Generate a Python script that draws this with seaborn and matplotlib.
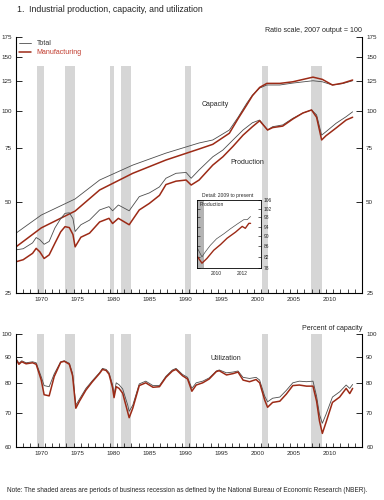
import numpy as np
import pandas as pd
import seaborn as sns
import matplotlib.pyplot as plt

# values (index, 2007 output = 100)
cap_years = [1967.0, 1970.5, 1975.2, 1978.6, 1983.2, 1987.8, 1992.4, 1994.3, 1996.6, 1997.8,
             1999.0, 1999.8, 2000.8, 2001.8, 2003.6, 2005.4, 2008.2, 2009.5, 2010.9, 2012.3, 2013.7]
cap_total = [39.4, 45.2, 51.1, 59.0, 66.1, 72.4, 78.2, 80.0, 86.3, 95.0,
             105.7, 112.5, 118.7, 121.5, 121.5, 123.3, 125.5, 124.5, 121.5, 122.8, 125.5]
cap_mfg = [35.5, 41.0, 46.6, 54.7, 62.1, 68.7, 74.7, 77.4, 84.2, 94.0,
           104.3, 112.0, 119.3, 123.0, 123.0, 124.5, 129.0, 126.8, 121.5, 123.2, 126.2]

prod_years = [1967.0, 1968.0, 1969.3, 1969.8, 1970.3, 1970.9, 1971.6, 1972.4, 1973.2, 1973.8,
              1974.4, 1974.9, 1975.2, 1976.0, 1977.2, 1978.6, 1979.9, 1980.4, 1981.2, 1982.7,
              1984.1, 1985.5, 1986.9, 1987.8, 1989.2, 1990.6, 1991.3, 1992.4, 1994.3, 1995.7,
              1997.1, 1998.5, 1999.8, 2000.8, 2001.9, 2002.6, 2004.0, 2005.4, 2006.8, 2008.0,
              2008.7, 2009.4, 2010.0, 2011.4, 2012.8, 2013.7]
prod_total = [34.7, 35.0, 36.6, 38.1, 37.5, 36.2, 37.0, 41.0, 44.0, 45.8,
              46.0, 44.0, 39.9, 42.0, 43.5, 47.0, 48.2, 46.7, 48.8, 46.7,
              52.0, 53.5, 56.0, 59.8, 62.1, 62.5, 59.8, 63.7, 70.4, 74.1,
              80.0, 86.3, 91.2, 93.1, 86.3, 88.5, 89.7, 94.3, 98.2, 100.5,
              96.8, 83.0, 85.2, 90.8, 95.5, 99.1]
prod_mfg = [31.7, 32.2, 33.8, 35.1, 34.2, 32.5, 33.4, 36.5, 39.8, 41.4,
            41.1, 39.0, 35.5, 38.2, 39.4, 42.9, 44.1, 42.4, 44.1, 42.0,
            47.0, 49.4, 52.5, 57.0, 58.5, 59.0, 56.8, 59.0, 66.1, 70.4,
            76.2, 83.0, 88.5, 92.6, 86.3, 87.9, 88.9, 93.8, 98.2, 100.5,
            95.1, 80.0, 82.6, 87.6, 93.1, 95.1]

util_years = [1967.0, 1967.4, 1967.8, 1968.4, 1969.3, 1969.8, 1970.5, 1970.9, 1971.6, 1972.3,
              1973.2, 1973.7, 1974.4, 1974.85, 1975.3, 1975.8, 1976.7, 1977.6, 1978.6, 1979.0,
              1979.5, 1979.9, 1980.4, 1980.6, 1980.9, 1981.3, 1981.8, 1982.5, 1982.7, 1983.2,
              1984.1, 1985.0, 1986.0, 1986.9, 1987.8, 1988.7, 1989.2, 1990.1, 1990.8, 1991.4,
              1992.0, 1992.9, 1993.8, 1994.8, 1995.2, 1996.2, 1997.1, 1997.8, 1998.5, 1999.4,
              2000.3, 2000.8, 2001.5, 2001.9, 2002.6, 2003.6, 2004.5, 2005.4, 2006.3, 2007.3,
              2008.2, 2008.7, 2009.1, 2009.5, 2010.0, 2010.9, 2011.9, 2012.8, 2013.3, 2013.7]
util_total = [89.6, 87.6, 88.6, 87.8, 88.2, 87.8, 82.4, 79.2, 78.8, 83.5,
              88.2, 88.6, 87.6, 83.7, 72.5, 74.5, 78.2, 81.0, 84.0, 85.6,
              85.2, 84.0, 79.5, 76.0, 80.2, 79.5, 78.0, 72.5, 70.5, 72.5,
              79.8, 80.8, 79.2, 79.2, 82.6, 85.0, 85.6, 83.3, 82.2, 78.2,
              80.2, 80.8, 82.0, 84.6, 85.0, 83.9, 84.2, 84.6, 82.2, 81.8,
              82.2, 81.2, 75.5, 73.6, 74.8, 75.2, 77.5, 80.2, 80.8, 80.6,
              80.8, 75.5, 69.5, 66.8, 69.5, 75.2, 77.0, 79.4, 78.2, 79.6]
util_mfg = [89.2, 87.2, 88.2, 87.4, 87.8, 87.2, 81.2, 76.0, 75.6, 82.5,
            88.0, 88.4, 87.2, 82.8, 71.5, 73.8, 77.6, 80.6, 83.7, 85.2,
            84.8, 83.4, 78.4, 75.0, 78.8, 78.2, 76.5, 70.2, 68.5, 71.5,
            79.2, 80.2, 78.6, 78.8, 82.2, 84.6, 85.2, 82.8, 81.6, 77.2,
            79.4, 80.2, 81.6, 84.4, 84.7, 83.1, 83.6, 84.2, 81.2, 80.6,
            81.4, 80.2, 74.2, 71.8, 73.4, 73.8, 76.2, 79.2, 79.4, 79.0,
            79.0, 73.8, 67.5, 63.8, 67.0, 73.4, 75.2, 78.2, 76.4, 78.2]

# inset: production, 2009 to present
det_years_total = [2009.05, 2009.38, 2009.64, 2010.02, 2010.5, 2011.05, 2011.56, 2012.08, 2012.58, 2012.85, 2013.1]
det_total = [85.1, 82.0, 83.9, 86.4, 89.0, 91.0, 93.1, 95.1, 97.0, 97.0, 98.4]
det_years_mfg = [2009.05, 2009.38, 2009.77, 2010.28, 2010.8, 2011.3, 2011.95, 2012.46, 2012.7, 2012.97, 2013.1]
det_mfg = [82.0, 79.7, 81.5, 84.5, 86.7, 89.2, 91.7, 94.1, 93.3, 95.4, 95.4]

# NBER recessions (start, end) in decimal years
recessions = [(1969.92, 1970.92), (1973.83, 1975.25), (1980.0, 1980.58), (1981.5, 1982.92),
              (1990.5, 1991.25), (2001.17, 2001.92), (2007.92, 2009.5)]

year_labels = ['1970', '1975', '1980', '1985', '1990', '1995', '2000', '2005', '2010']

sns.set_style('white')
plt.rcParams['font.family'] = ['Liberation Sans', 'DejaVu Sans']

C_TOT = '#4d4d4d'
C_MFG = '#9c2a16'
SHADE = '#d6d6d6'
FS = 4.5

fig = plt.figure(figsize=(3.84, 5.0), dpi=100)
ax1 = fig.add_axes([16 / 384, 1 - 293 / 500, 346 / 384, 256 / 500])
ax2 = fig.add_axes([16 / 384, 1 - 447 / 500, 346 / 384, 113 / 500])


def frame(ax, ylo, yhi, yticks, shade_top):
    ax.set_yscale('log')
    ax.set_ylim(ylo, yhi)
    ax.set_xlim(1967, 2015)
    for a, b in recessions:
        ax.fill_between([a, b], ylo, shade_top, color=SHADE, lw=0, zorder=0)
    ax.set_yticks(yticks, labels=[str(t) for t in yticks])
    ax.yaxis.set_minor_locator(plt.NullLocator())
    ax.tick_params(axis='y', direction='in', length=4, width=0.7, left=True, right=True,
                   labelleft=True, labelright=True, labelsize=FS, pad=3)
    ax.set_xticks(np.arange(1967, 2016))
    ax.set_xticklabels([''] * len(np.arange(1967, 2016)))
    ax.set_xticks([int(s) + 0.5 for s in year_labels], labels=year_labels, minor=True)
    ax.tick_params(axis='x', which='major', direction='in', length=3, width=0.6, bottom=True)
    ax.tick_params(axis='x', which='minor', length=0, labelsize=FS, pad=3)
    ax.spines['top'].set_visible(False)
    for s in ['left', 'right', 'bottom']:
        ax.spines[s].set_linewidth(0.8)
        ax.spines[s].set_color('black')
    ax.set_xlabel('')
    ax.set_ylabel('')


cap = pd.DataFrame({'year': cap_years, 'total': cap_total, 'mfg': cap_mfg})
prod = pd.DataFrame({'year': prod_years, 'total': prod_total, 'mfg': prod_mfg})
util = pd.DataFrame({'year': util_years, 'total': util_total, 'mfg': util_mfg})

for df in (cap, prod):
    sns.lineplot(data=df, x='year', y='total', ax=ax1, color=C_TOT, lw=0.6, label='Total')
    sns.lineplot(data=df, x='year', y='mfg', ax=ax1, color=C_MFG, lw=1.1, label='Manufacturing')
frame(ax1, 25, 175, [25, 50, 75, 100, 125, 150, 175], 140)

h, l = ax1.get_legend_handles_labels()
leg = ax1.legend(h[:2], l[:2], loc='upper left', bbox_to_anchor=(0.0, 1.0), frameon=False,
                 fontsize=5, handlelength=1.7, handletextpad=0.8, labelspacing=0.25,
                 borderaxespad=0.2, borderpad=0.3)
leg.get_texts()[0].set_color('#333333')
leg.get_texts()[1].set_color('#c0392b')

sns.lineplot(data=util, x='year', y='total', ax=ax2, color=C_TOT, lw=0.6, legend=False)
sns.lineplot(data=util, x='year', y='mfg', ax=ax2, color=C_MFG, lw=1.1, legend=False)
frame(ax2, 60, 100, [60, 70, 80, 90, 100], 100)

# inset detail
ax3 = fig.add_axes([197 / 384, 1 - 268 / 500, 64 / 384, 68 / 500])
ax3.set_facecolor('white')
ax3.set_yscale('log')
ax3.set_ylim(78, 106)
ax3.set_xlim(2009.0, 2013.9)
ax3.axvspan(2009.0, 2009.5, color='#b3b3b3', lw=0, zorder=0)
sns.lineplot(x=det_years_total, y=det_total, ax=ax3, color=C_TOT, lw=0.5, legend=False)
sns.lineplot(x=det_years_mfg, y=det_mfg, ax=ax3, color=C_MFG, lw=1.0, legend=False)
dticks = [78, 82, 86, 90, 94, 98, 102, 106]
ax3.set_yticks(dticks, labels=[str(t) for t in dticks])
ax3.yaxis.set_minor_locator(plt.NullLocator())
ax3.tick_params(axis='y', direction='in', length=2.5, width=0.5, left=True, right=True,
                labelleft=False, labelright=True, labelsize=3.5, pad=2)
ax3.set_xticks([2010, 2011, 2012, 2013])
ax3.set_xticklabels(['', '', '', ''])
ax3.set_xticks([2010.5, 2012.5], labels=['2010', '2012'], minor=True)
ax3.tick_params(axis='x', which='major', direction='in', length=2, width=0.5)
ax3.tick_params(axis='x', which='minor', length=0, labelsize=3.5, pad=2)
for s in ax3.spines.values():
    s.set_linewidth(0.6)
    s.set_color('black')
ax3.set_xlabel('')
ax3.set_ylabel('')
ax3.text(0.04, 0.97, 'Production', transform=ax3.transAxes, fontsize=3.6, va='top', ha='left')
fig.text(202 / 384, 1 - 196 / 500, 'Detail: 2009 to present', fontsize=3.6, va='center', ha='left')

# text labels
fig.text(17 / 384, 1 - 9 / 500, '1.  Industrial production, capacity, and utilization',
         fontsize=6.3, va='center', ha='left')
fig.text(362 / 384, 1 - 31 / 500, 'Ratio scale, 2007 output = 100', fontsize=5.1, va='center', ha='right')
fig.text(215 / 384, 1 - 105 / 500, 'Capacity', fontsize=5, va='center', ha='center')
fig.text(247 / 384, 1 - 162 / 500, 'Production', fontsize=5, va='center', ha='center')
fig.text(226 / 384, 1 - 359 / 500, 'Utilization', fontsize=5, va='center', ha='center')
fig.text(362 / 384, 1 - 328 / 500, 'Percent of capacity', fontsize=5.1, va='center', ha='right')
fig.text(7 / 384, 1 - 491 / 500,
         'Note: The shaded areas are periods of business recession as defined by the '
         'National Bureau of Economic Research (NBER).', fontsize=4.7, va='center', ha='left')

fig.savefig('out.png', dpi=100)
